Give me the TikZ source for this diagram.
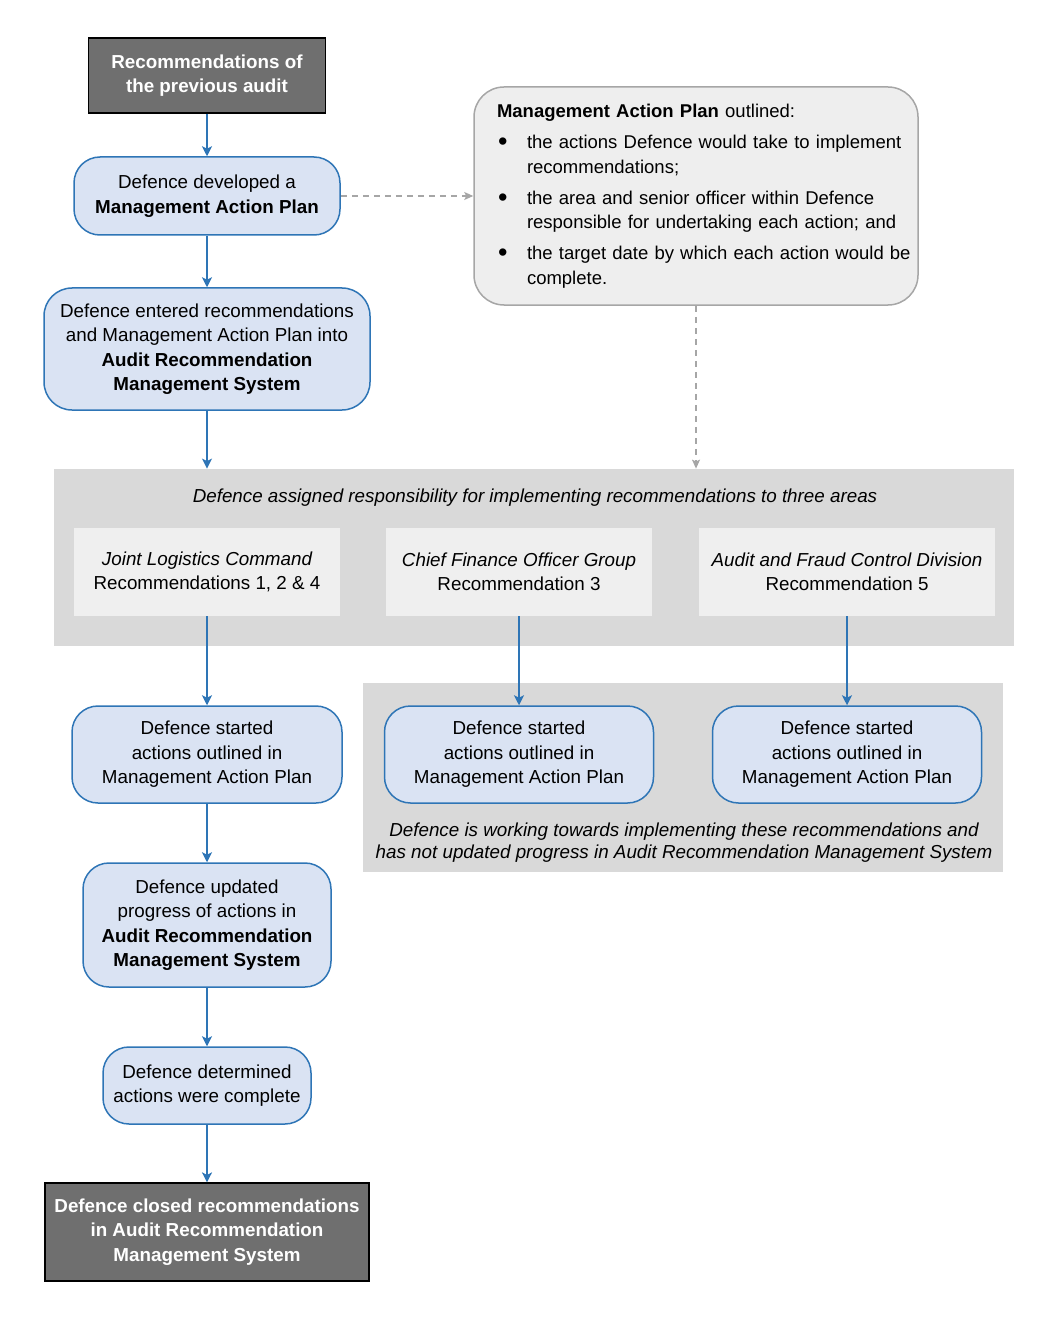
\documentclass[tikz,border=0pt]{standalone}
\usepackage{fontspec}
\setmainfont{Liberation Sans}
\usetikzlibrary{arrows.meta}

\definecolor{stepblue}{RGB}{46,117,182}
\definecolor{stepfill}{RGB}{218,227,243}
\definecolor{darkbox}{RGB}{111,111,111}
\definecolor{areagray}{RGB}{217,217,217}
\definecolor{subgray}{RGB}{239,239,239}
\definecolor{mapgray}{RGB}{166,166,166}
\definecolor{mapfill}{RGB}{238,238,238}

\newcommand\mainsize{\fontsize{18.8}{24.5}\selectfont}
\newcommand\mapdot{\hspace*{1pt}\raisebox{-2pt}{\fontsize{27}{24.5}\selectfont\textbullet}}

\tikzset{every picture/.style={line width=0.75pt}}
\tikzset{
  stepbox/.style={draw=stepblue, fill=stepfill, line width=1.5pt, rounded corners=26pt, align=center, inner sep=0pt},
  endbox/.style={draw=black, fill=darkbox, line width=1.2pt, text=white, font=\mainsize\bfseries, align=center, inner sep=0pt},
  areabox/.style={fill=areagray, inner sep=0pt},
  subbox/.style={fill=subgray, align=center, inner sep=0pt},
  mapbox/.style={draw=mapgray, fill=mapfill, line width=1.5pt, rounded corners=30pt, align=left, inner ysep=0pt, inner xsep=23pt, font=\fontsize{18.5}{24.5}\selectfont},
  flow/.style={draw=stepblue, line width=1.5pt, -{Stealth[length=10pt,width=10pt,inset=2.5pt]}},
  mapflow/.style={draw=mapgray, line width=1.2pt, dash pattern=on 6pt off 5pt, -{Stealth[length=9pt,width=8pt,inset=2pt]}},
}

\begin{document}
\begin{tikzpicture}[x=1pt,y=1pt,yscale=-1,every node/.append style={font=\mainsize}]
    \useasboundingbox (0,0) rectangle (1059,1321);

    %Shape: Rectangle [areas]
    \node (area) at (534,557.5) [areabox, minimum width=960, minimum height=177] {};
    %Shape: Rectangle [working]
    \node (work) at (683,777.5) [areabox, minimum width=640, minimum height=189] {};

    %Shape: Rectangle [previous audit]
    \node (prev) at (207,75.5) [endbox, minimum width=237, minimum height=75] {Recommendations of\\the previous audit};
    %Shape: Rounded Rect [developed]
    \node (dev) at (207,196) [stepbox, minimum width=266, minimum height=78] {Defence developed a\\\textbf{Management Action Plan}};
    %Shape: Rounded Rect [entered]
    \node (enter) at (207,349) [stepbox, rounded corners=28pt, minimum width=326, minimum height=122] {Defence entered recommendations\\and Management Action Plan into\\\textbf{Audit Recommendation}\\\textbf{Management System}};

    %Shape: Rounded Rect [plan outline]
    \node (map) at (696,196) [mapbox, minimum width=444, minimum height=218, text width=398] {%
      \begin{tabular}{@{}p{30pt}@{}l@{}}
        \multicolumn{2}{@{}l@{}}{\textbf{Management Action Plan} outlined:}\\[6.5pt]
        \mapdot & the actions Defence would take to implement\\
         & recommendations;\\[6.5pt]
        \mapdot & the area and senior officer within Defence\\
         & responsible for undertaking each action; and\\[6.5pt]
        \mapdot & the target date by which each action would be\\
         & complete.
      \end{tabular}};

    % Text Node
    \node (areatitle) at (535,498) {\itshape Defence assigned responsibility for implementing recommendations to three areas};
    %Shape: Rectangle [three areas]
    \node (jlc) at (207,572) [subbox, minimum width=266, minimum height=88] {\itshape Joint Logistics Command\\Recommendations 1, 2 \& 4};
    \node (cfo) at (519,572) [subbox, minimum width=266, minimum height=88] {\itshape Chief Finance Officer Group\\Recommendation 3};
    \node (afc) at (847,572) [subbox, minimum width=296, minimum height=88] {\itshape Audit and Fraud Control Division\\Recommendation 5};

    %Shape: Rounded Rect [started]
    \node (startA) at (207,754.5) [stepbox, minimum width=270, minimum height=97] {Defence started\\actions outlined in\\Management Action Plan};
    \node (startB) at (519,754.5) [stepbox, minimum width=269, minimum height=97] {Defence started\\actions outlined in\\Management Action Plan};
    \node (startC) at (847,754.5) [stepbox, minimum width=269, minimum height=97] {Defence started\\actions outlined in\\Management Action Plan};
    % Text Node
    \node (worknote) at (684,842.5) [align=center, font=\fontsize{18.8}{22}\selectfont\itshape] {Defence is working towards implementing these recommendations and\\has not updated progress in Audit Recommendation Management System};

    %Shape: Rounded Rect [updated]
    \node (upd) at (207,925) [stepbox, minimum width=248, minimum height=124] {Defence updated\\progress of actions in\\\textbf{Audit Recommendation}\\\textbf{Management System}};
    %Shape: Rounded Rect [determined]
    \node (det) at (207,1085.5) [stepbox, minimum width=208, minimum height=77] {Defence determined\\actions were complete};
    %Shape: Rectangle [closed]
    \node (closed) at (207,1232) [endbox, minimum width=324, minimum height=98] {Defence closed recommendations\\in Audit Recommendation\\Management System};

    %Straight Lines
    \draw [flow] (prev) -- (dev);
    \draw [flow] (dev) -- (enter);
    \draw [flow] (enter) -- (enter.south |- area.north);
    \draw [flow] (jlc) -- (startA);
    \draw [flow] (cfo) -- (startB);
    \draw [flow] (afc) -- (startC);
    \draw [flow] (startA) -- (upd);
    \draw [flow] (upd) -- (det);
    \draw [flow] (det) -- (closed);
    %Dashed Lines
    \draw [mapflow] (dev) -- (map);
    \draw [mapflow] (map) -- (map.south |- area.north);

\end{tikzpicture}
\end{document}
